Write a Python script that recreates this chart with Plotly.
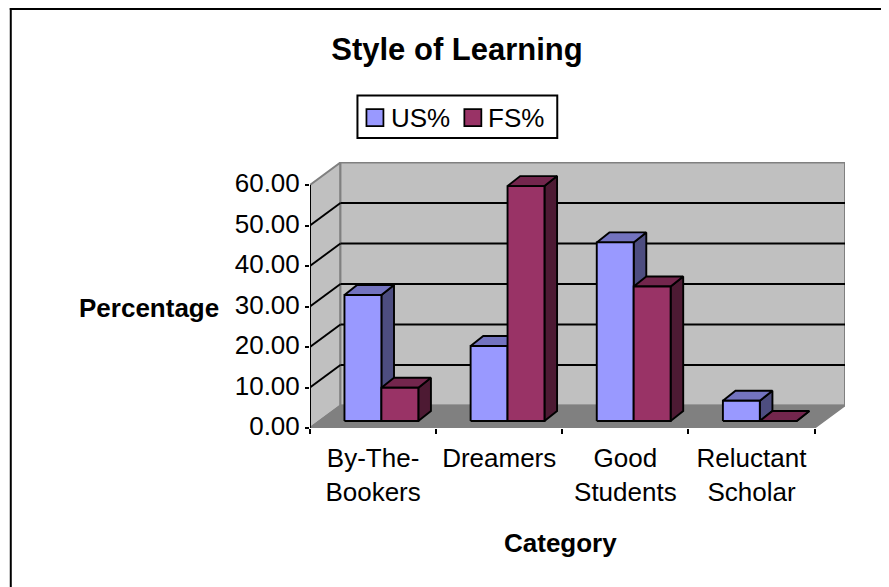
import plotly.graph_objects as go

# ---- data ----
categories = ["By-The-<br>Bookers", "Dreamers", "Good<br>Students", "Reluctant<br>Scholar"]
us_values = [31.1, 18.5, 44.1, 5.0]
fs_values = [8.2, 58.0, 33.2, 0.0]
value_ticks = [0, 10, 20, 30, 40, 50, 60]
series_names = ["US%", "FS%"]

# ---- style / projection ----
PAGE = 8                # default page margin in front of the figure
W, H = 881, 579
ML, MR, MT, MB = 301.5, 44, 154, 159
FONT = "Liberation Sans"
WALL_DX, WALL_DY = 0.2413, 5.56     # oblique depth of the chart box (x units, value units)
BAR_DX0, BAR_DY0 = 0.066, 1.73      # where the bars' front plane sits inside the box
BAR_DX, BAR_DY = 0.1, 2.47          # depth of a bar
BAR_W = 0.2927
OUTLINE = 1.9
US_COL = ("#9999ff", "#7373bf", "#4d4d80")
FS_COL = ("#993366", "#73264d", "#4d1a33")
N = len(categories)
TOP = value_ticks[-1]
X_MAX = N + WALL_DX
Y_MAX = TOP + WALL_DY + 0.12


def px(x):
    return (x - PAGE - ML) / (W - ML - MR)


def py(y):
    return (H - MB - (y - PAGE)) / (H - MT - MB)


def poly(xs, ys, fill, line, lw=OUTLINE):
    return go.Scatter(x=xs + xs[:1], y=ys + ys[:1], mode="lines", fill="toself", fillcolor=fill,
                      line=dict(color=line, width=lw), hoverinfo="skip", showlegend=False,
                      cliponaxis=False)


def segs(pairs, color, lw):
    xs, ys = [], []
    for (x0, y0, x1, y1) in pairs:
        xs += [x0, x1, None]
        ys += [y0, y1, None]
    return go.Scatter(x=xs, y=ys, mode="lines", line=dict(color=color, width=lw),
                      hoverinfo="skip", showlegend=False, cliponaxis=False)


fig = go.Figure()
# side wall, back wall, floor
fig.add_trace(poly([0, WALL_DX, WALL_DX, 0], [0, WALL_DY, TOP + WALL_DY, TOP], "#c0c0c0", "#808080", 2))
fig.add_trace(poly([WALL_DX, X_MAX, X_MAX, WALL_DX], [WALL_DY, WALL_DY, TOP + WALL_DY, TOP + WALL_DY],
                   "#c0c0c0", "#808080", 2))
# grid lines
grid = value_ticks[1:-1]
fig.add_trace(segs([(0, v, WALL_DX, v + WALL_DY) for v in grid], "black", OUTLINE))
fig.add_trace(segs([(WALL_DX, v + WALL_DY, X_MAX, v + WALL_DY) for v in grid], "black", OUTLINE))
fig.add_trace(poly([0, N, X_MAX, WALL_DX], [0, 0, WALL_DY, WALL_DY], "#808080", "#808080", 1.5))
fig.add_trace(segs([(0, 0, 0, TOP)], "black", 2))


def add_bar(x0, value, cols):
    x1 = x0 + BAR_W
    b, t = BAR_DY0, BAR_DY0 + value
    fig.add_trace(poly([x1, x1 + BAR_DX, x1 + BAR_DX, x1], [b, b + BAR_DY, t + BAR_DY, t], cols[2], "black"))
    fig.add_trace(poly([x0, x1, x1 + BAR_DX, x0 + BAR_DX], [t, t, t + BAR_DY, t + BAR_DY], cols[1], "black"))
    if value > 0:
        fig.add_trace(poly([x0, x1, x1, x0], [b, b, t, t], cols[0], "black"))


for i in range(N):
    mid = i + 0.5 + BAR_DX0
    add_bar(mid - BAR_W, us_values[i], US_COL)
    add_bar(mid, fs_values[i], FS_COL)

# empty trace that carries the overlay axis with the category boundaries
fig.add_trace(go.Scatter(x=[None], y=[None], xaxis="x2", yaxis="y", showlegend=False, hoverinfo="skip"))

axis_font = dict(family=FONT, size=26, color="black")
shapes = [
    dict(type="line", xref="paper", yref="paper", x0=px(10), x1=px(10), y0=py(8), y1=py(587),
         line=dict(color="black", width=2)),
    dict(type="line", xref="paper", yref="paper", x0=px(9), x1=px(889), y0=py(9), y1=py(9),
         line=dict(color="black", width=2)),
    dict(type="rect", xref="paper", yref="paper", x0=px(357), x1=px(557), y0=py(95.5), y1=py(138),
         line=dict(color="black", width=2), fillcolor="white"),
]
legend_items = [(366, 391, US_COL[0], series_names[0]), (464, 488, FS_COL[0], series_names[1])]
annotations = []
for sx, tx, col, name in legend_items:
    shapes.append(dict(type="rect", xref="paper", yref="paper", x0=px(sx), x1=px(sx + 17),
                       y0=py(109), y1=py(126), line=dict(color="black", width=1.75), fillcolor=col))
    annotations.append(dict(xref="paper", yref="paper", x=px(tx), y=py(118), text=name, showarrow=False,
                            xanchor="left", yanchor="middle", xshift=-2, font=axis_font))
annotations += [
    dict(xref="paper", yref="paper", x=px(148), y=py(308), text="<b>Percentage</b>", showarrow=False,
         xanchor="center", yanchor="middle", font=axis_font),
    dict(xref="paper", yref="paper", x=px(560.5), y=py(543), text="<b>Category</b>", showarrow=False,
         xanchor="center", yanchor="middle", font=axis_font),
]

fig.update_layout(
    width=W, height=H, autosize=False,
    margin=dict(l=ML, r=MR, t=MT, b=MB, pad=0),
    paper_bgcolor="white", plot_bgcolor="white",
    showlegend=False, hovermode=False,
    title=dict(text="<b>Style of Learning</b>", x=(457 - PAGE) / W, xref="container",
               xanchor="center", y=1 - (49 - PAGE) / H, yanchor="middle",
               font=dict(family=FONT, size=31, color="black")),
    xaxis=dict(range=[0, X_MAX], tickmode="array", tickvals=[i + 0.5 for i in range(N)], ticktext=categories,
               ticks="", showgrid=False, zeroline=False, showline=False, tickfont=axis_font, tickangle=0,
               ticklabelstandoff=12),
    xaxis2=dict(range=[0, X_MAX], overlaying="x", anchor="y", side="bottom", tickmode="array",
                tickvals=list(range(N + 1)), ticks="outside", ticklen=5, tickwidth=1.5, tickcolor="black",
                showticklabels=False, showgrid=False, zeroline=False, showline=False),
    yaxis=dict(range=[0, Y_MAX], tickmode="array", tickvals=value_ticks, tickformat=".2f",
               ticks="outside", ticklen=4, tickwidth=1.5, tickcolor="black", showgrid=False, zeroline=False,
               showline=False, tickfont=axis_font, ticklabelshift=-2),
    shapes=shapes, annotations=annotations,
)

fig.write_html("out.html")
